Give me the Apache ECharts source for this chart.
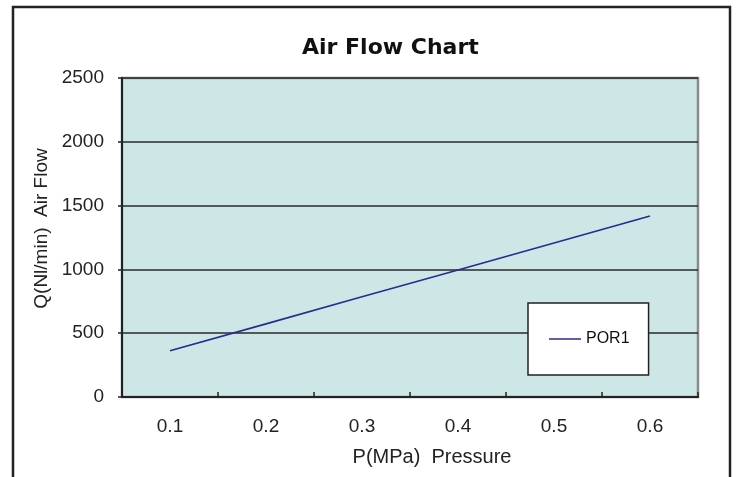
<!DOCTYPE html>
<html>
<head>
<meta charset="utf-8">
<script src="https://cdn.jsdelivr.net/npm/echarts@6/dist/echarts.min.js"></script>
<style>
  html, body { margin: 0; padding: 0; background: #fff; }
  #chart { width: 738px; height: 477px; }
</style>
</head>
<body>
<div id="chart"></div>
<script>
  // pressure (MPa) categories and air flow (Nl/min)
  const pressures = ['0.1', '0.2', '0.3', '0.4', '0.5', '0.6']
  const flowPOR1 = [362, 573, 785, 995, 1207, 1418]
  const yTicks = { min: 0, max: 2500, interval: 500 }

  const labelFont = '"Liberation Sans Narrow", "Liberation Sans", Arial, sans-serif'
  const nameFont = '"Liberation Sans", Arial, sans-serif'

  const chart = echarts.init(document.getElementById('chart'))

  const option = {
    animation: false,
    backgroundColor: '#fff',
    title: {
      text: 'Air Flow Chart',
      left: 297,
      top: 32,
      textStyle: {
        fontFamily: '"DejaVu Sans", sans-serif',
        fontWeight: 'bold',
        fontSize: 22,
        color: '#111'
      }
    },
    graphic: [
      {
        // outer frame of the chart
        type: 'rect',
        shape: { x: 13, y: 7, width: 717, height: 500 },
        style: { fill: 'none', stroke: '#222', lineWidth: 2.5 },
        silent: true
      }
    ],
    legend: {
      data: [{ name: 'POR1', icon: 'rect' }],
      left: 528,
      top: 303,
      orient: 'vertical',
      padding: [28, 19, 28, 21],
      itemWidth: 32,
      itemHeight: 1.5,
      itemGap: 5,
      backgroundColor: '#fff',
      borderColor: '#222',
      borderWidth: 1.5,
      textStyle: {
        fontFamily: nameFont,
        fontSize: 16,
        lineHeight: 16,
        color: '#111'
      }
    },
    grid: {
      left: 122,
      right: 40,
      top: 78,
      bottom: 80,
      show: true,
      backgroundColor: '#cde6e6',
      borderColor: '#8a8a8a',
      borderWidth: 2.5
    },
    xAxis: {
      type: 'category',
      data: pressures,
      boundaryGap: true,
      name: 'P(MPa)  Pressure',
      nameLocation: 'middle',
      nameGap: 50,
      nameTextStyle: {
        fontFamily: nameFont,
        fontSize: 20,
        color: '#222',
        padding: [0, 0, 0, 44]
      },
      axisLine: { lineStyle: { color: '#222', width: 2 } },
      axisTick: { show: true, inside: true, length: 5, lineStyle: { color: '#222', width: 1.5 } },
      axisLabel: {
        margin: 20,
        fontFamily: labelFont,
        fontSize: 19,
        color: '#222'
      },
      splitLine: { show: false }
    },
    yAxis: {
      type: 'value',
      min: yTicks.min,
      max: yTicks.max,
      interval: yTicks.interval,
      name: 'Q(Nl/min)  Air Flow',
      nameLocation: 'middle',
      nameGap: 67,
      nameRotate: 90,
      nameTextStyle: {
        fontFamily: nameFont,
        fontSize: 19,
        color: '#222',
        padding: [0, 0, 0, 18]
      },
      axisLine: { show: true, lineStyle: { color: '#222', width: 2 } },
      axisTick: { show: true, length: 4, lineStyle: { color: '#222', width: 1.5 } },
      axisLabel: {
        margin: 18,
        fontFamily: labelFont,
        fontSize: 19,
        color: '#222',
        formatter: (value) => String(value)
      },
      splitLine: { show: true, lineStyle: { color: '#2a2a2a', width: 1.5 } }
    },
    series: [
      {
        name: 'POR1',
        type: 'line',
        data: flowPOR1,
        symbol: 'none',
        lineStyle: { color: '#2b2b8c', width: 1.6 },
        itemStyle: { color: '#2b2b8c' }
      }
    ]
  }

  chart.setOption(option)
</script>
</body>
</html>
